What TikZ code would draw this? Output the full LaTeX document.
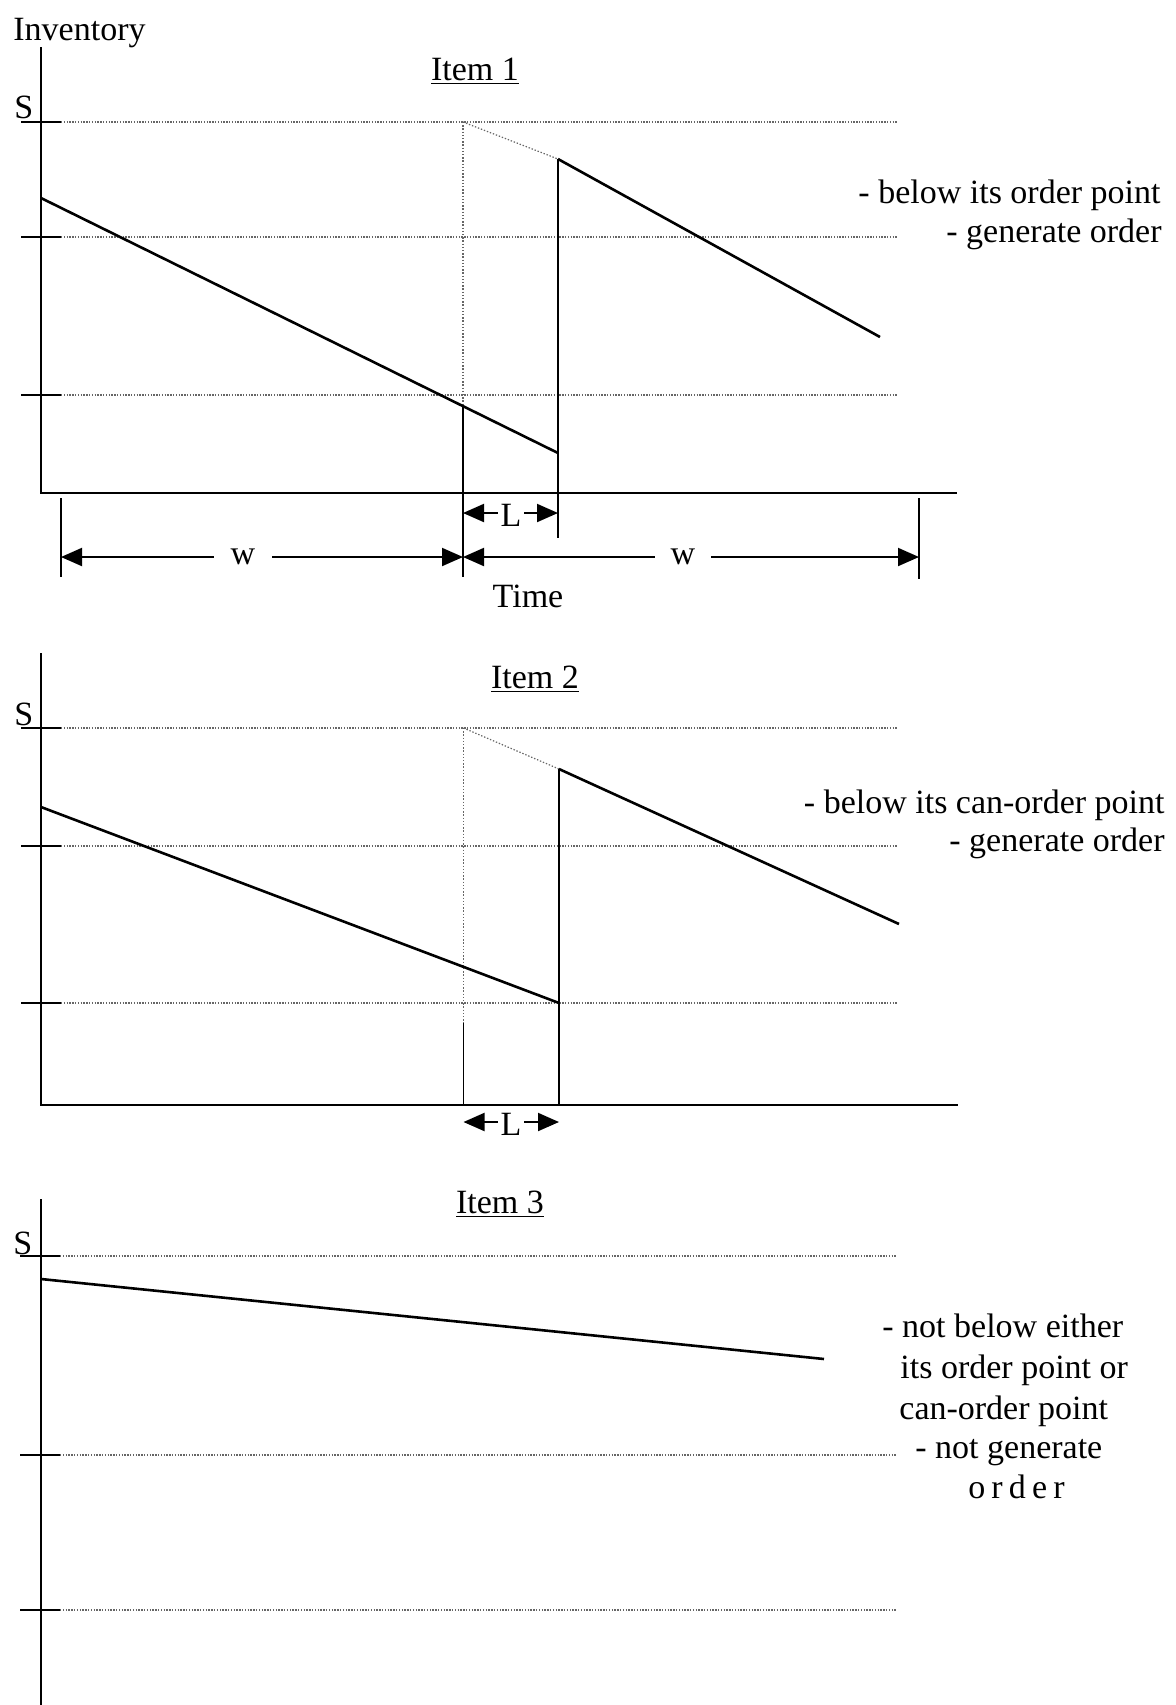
\documentclass[tikz,border=0pt]{standalone}
\usepackage{fontspec}
\setmainfont{Liberation Serif}
\usetikzlibrary{arrows.meta}
\begin{document}
\begin{tikzpicture}[x=0.5pt,y=-0.5pt,
  txt/.style={font=\fontsize{17}{20}\selectfont, inner sep=0pt},
  axisline/.style={line width=1pt},
  tickline/.style={line width=1pt},
  gridline/.style={line width=0.55pt, black!60, dash pattern=on 0.7pt off 0.7pt},
  curve/.style={line width=1.3pt},
  vsolid/.style={line width=0.9pt},
  vdot/.style={line width=0.6pt, black!60, dash pattern=on 0.7pt off 0.9pt},
  dim/.style={line width=1pt, {Triangle[length=10.5pt,width=9pt]}-{Triangle[length=10.5pt,width=9pt]}},
  extline/.style={line width=0.7pt},
  gapnode/.style={txt, fill=white, inner sep=0pt}
]
\useasboundingbox (0,0) rectangle (1175,1705);

% ================= Item 1 =================
\node[txt, anchor=base west] (inv) at (13,40) {Inventory};
\node[txt, anchor=base] (title1) at (475,80) {\underline{Item 1}};
\node[txt, anchor=base west] (s1) at (14,118) {S};

\coordinate (a1top) at (41,47);
\coordinate (a1o) at (41,493);
\coordinate (a1x) at (957,493);

\coordinate (t1al) at (21,122); \coordinate (t1ar) at (61,122); \coordinate (g1a) at (897,122);
\coordinate (t1bl) at (21,237); \coordinate (t1br) at (61,237); \coordinate (g1b) at (897,237);
\coordinate (t1cl) at (21,395); \coordinate (t1cr) at (61,395); \coordinate (g1c) at (897,395);

\draw[gridline] (t1ar) -- (g1a);
\draw[gridline] (t1br) -- (g1b);
\draw[gridline] (t1cr) -- (g1c);

\coordinate (o1top) at (463,122);
\coordinate (o1mid) at (463,406);
\coordinate (o1bot) at (463,493);
\coordinate (r1top) at (558,159);
\coordinate (r1low) at (558,453);
\coordinate (r1bot) at (558,493);
\coordinate (c1s) at (41,198);
\coordinate (c1f) at (880,337);

\draw[vdot] (o1top) -- (o1mid);
\draw[vdot] (o1top) -- (r1top);
\draw[vsolid] (o1mid) -- (o1bot);
\draw[vsolid] (r1top) -- (r1bot);
\draw[curve] (c1s) -- (r1low);
\draw[curve] (r1top) -- (c1f);

\draw[axisline] (a1top) -- (a1o) -- (a1x);
\draw[tickline] (t1al) -- (t1ar);
\draw[tickline] (t1bl) -- (t1br);
\draw[tickline] (t1cl) -- (t1cr);

% dimension lines item 1
\coordinate (e1m) at (463,577);
\coordinate (e1r) at (558,538);
\coordinate (e1at) at (61,498); \coordinate (e1ab) at (61,577);
\coordinate (e1bt) at (919,498); \coordinate (e1bb) at (919,579);
\draw[extline] (o1bot) -- (e1m);
\draw[extline] (r1bot) -- (e1r);
\draw[extline] (e1at) -- (e1ab);
\draw[extline] (e1bt) -- (e1bb);

\coordinate (L1a) at (463,513); \coordinate (L1b) at (558,513);
\draw[dim] (L1a) -- (L1b);
\node[gapnode, inner xsep=1.5pt] (L1) at (511,515) {L};

\coordinate (w1a) at (61,557); \coordinate (w1m) at (463,557); \coordinate (w1b) at (919,557);
\draw[dim] (w1a) -- (w1m);
\draw[dim] (w1m) -- (w1b);
\node[gapnode, minimum width=29pt, minimum height=10pt] (w1l) at (243,557) {w};
\node[gapnode, minimum width=28pt, minimum height=10pt] (w1r) at (683,557) {w};

\node[txt, anchor=base] (time) at (528,607) {Time};

\node[txt, anchor=base east] (n1a) at (1161,203) {- below its order point};
\node[txt, anchor=base east] (n1b) at (1162,242) {- generate order};

% ================= Item 2 =================
\node[txt, anchor=base] (title2) at (535,688) {\underline{Item 2}};
\node[txt, anchor=base west] (s2) at (14,725) {S};

\coordinate (a2top) at (41,653);
\coordinate (a2o) at (41,1105);
\coordinate (a2x) at (958,1105);

\coordinate (t2al) at (21,728); \coordinate (t2ar) at (61,728); \coordinate (g2a) at (897,728);
\coordinate (t2bl) at (21,846); \coordinate (t2br) at (61,846); \coordinate (g2b) at (897,846);
\coordinate (t2cl) at (21,1003); \coordinate (t2cr) at (61,1003); \coordinate (g2c) at (897,1003);

\draw[gridline] (t2ar) -- (g2a);
\draw[gridline] (t2br) -- (g2b);
\draw[gridline] (t2cr) -- (g2c);

\coordinate (o2top) at (463.5,728);
\coordinate (o2mid) at (463.5,1023);
\coordinate (o2bot) at (463.5,1105);
\coordinate (r2top) at (559,769);
\coordinate (r2low) at (559,1003);
\coordinate (r2bot) at (559,1105);
\coordinate (c2s) at (41,807);
\coordinate (c2f) at (899,924);

\draw[vdot] (o2top) -- (o2mid);
\draw[vdot] (o2top) -- (r2top);
\draw[vsolid] (o2mid) -- (o2bot);
\draw[vsolid] (r2top) -- (r2bot);
\draw[curve] (c2s) -- (r2low);
\draw[curve] (r2top) -- (c2f);

\draw[axisline] (a2top) -- (a2o) -- (a2x);
\draw[tickline] (t2al) -- (t2ar);
\draw[tickline] (t2bl) -- (t2br);
\draw[tickline] (t2cl) -- (t2cr);

\coordinate (L2a) at (463.5,1122); \coordinate (L2b) at (559,1122);
\draw[dim] (L2a) -- (L2b);
\node[gapnode, inner xsep=1.5pt] (L2) at (511,1124) {L};

\node[txt, anchor=base east] (n2a) at (1165,813) {- below its can-order point};
\node[txt, anchor=base east] (n2b) at (1165,851) {- generate order};

% ================= Item 3 =================
\node[txt, anchor=base] (title3) at (500,1213) {\underline{Item 3}};
\node[txt, anchor=base west] (s3) at (13,1254) {S};

\coordinate (a3top) at (41,1199);
\coordinate (a3bot) at (41,1705);

\coordinate (t3al) at (20,1256); \coordinate (t3ar) at (60,1256); \coordinate (g3a) at (896,1256);
\coordinate (t3bl) at (20,1455); \coordinate (t3br) at (60,1455); \coordinate (g3b) at (896,1455);
\coordinate (t3cl) at (20,1610); \coordinate (t3cr) at (60,1610); \coordinate (g3c) at (896,1610);

\draw[gridline] (t3ar) -- (g3a);
\draw[gridline] (t3br) -- (g3b);
\draw[gridline] (t3cr) -- (g3c);

\coordinate (c3s) at (41,1279);
\coordinate (c3f) at (824,1359);
\draw[curve] (c3s) -- (c3f);

\draw[axisline] (a3top) -- (a3bot);
\draw[tickline] (t3al) -- (t3ar);
\draw[tickline] (t3bl) -- (t3br);
\draw[tickline] (t3cl) -- (t3cr);

\node[txt, anchor=base west] (n3a) at (882,1337) {- not below either};
\node[txt, anchor=base west] (n3b) at (900,1378) {its order point or};
\node[txt, anchor=base west] (n3c) at (899,1419) {can-order point};
\node[txt, anchor=base west] (n3d) at (915,1458) {- not generate};
\node[txt, anchor=base west] (n3e) at (968,1498) {\addfontfeatures{LetterSpace=18}order};

\end{tikzpicture}
\end{document}
